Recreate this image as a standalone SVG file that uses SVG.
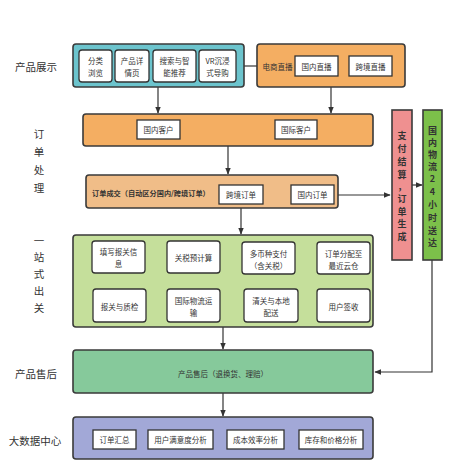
<svg xmlns="http://www.w3.org/2000/svg" width="468" height="469" viewBox="0 0 468 469">
<defs>
<marker id="ah" viewBox="0 0 10 10" refX="9" refY="5" markerWidth="7" markerHeight="7" orient="auto-start-reverse" markerUnits="userSpaceOnUse"><path d="M0,1 L10,5 L0,9 z" fill="#333"/></marker>
<style>
text{font-family:"Noto Sans CJK SC","Noto Sans",sans-serif;fill:#333}
.lbl{font-size:10.5px;text-anchor:middle;dominant-baseline:central}
.sm{font-size:7.5px;text-anchor:middle;dominant-baseline:central}
.vt{font-size:9px;font-weight:bold;text-anchor:middle;dominant-baseline:central}
.grp{stroke:#3a3a3a;stroke-width:1.6}
.wb{fill:#fff;stroke:#333;stroke-width:1.3}
.ln{fill:none;stroke:#333;stroke-width:1.2}
</style>
</defs>
<rect width="468" height="469" fill="#fff"/>

<g id="left-labels">
<text class="lbl" x="36" y="66">产品展示</text>
<text class="lbl" x="39" y="133">订</text>
<text class="lbl" x="39" y="151">单</text>
<text class="lbl" x="39" y="169">处</text>
<text class="lbl" x="39" y="187">理</text>
<text class="lbl" x="39" y="240">一</text>
<text class="lbl" x="39" y="256">站</text>
<text class="lbl" x="39" y="273">式</text>
<text class="lbl" x="39" y="290">出</text>
<text class="lbl" x="39" y="307">关</text>
<text class="lbl" x="36" y="373">产品售后</text>
<text class="lbl" x="35" y="440">大数据中心</text>
</g>

<g id="connectors">
<line class="ln" x1="244" y1="66" x2="257" y2="66"/>
<line class="ln" x1="158" y1="87" x2="158" y2="113" marker-end="url(#ah)"/>
<line class="ln" x1="331" y1="87" x2="331" y2="113" marker-end="url(#ah)"/>
<line class="ln" x1="228" y1="146" x2="228" y2="174" marker-end="url(#ah)"/>
<line class="ln" x1="334" y1="195" x2="390" y2="195" marker-end="url(#ah)"/>
<line class="ln" x1="412" y1="185" x2="422" y2="185" marker-end="url(#ah)"/>
<line class="ln" x1="241" y1="204" x2="241" y2="234" marker-end="url(#ah)"/>
<polyline class="ln" points="432,260 432,372 375,372" marker-end="url(#ah)"/>
<line class="ln" x1="145" y1="256" x2="166" y2="256" marker-end="url(#ah)"/>
<line class="ln" x1="220" y1="256" x2="241" y2="256" marker-end="url(#ah)"/>
<line class="ln" x1="295" y1="256" x2="316" y2="256" marker-end="url(#ah)"/>
<polyline class="ln" points="344,274 344,282 120,282 120,288" marker-end="url(#ah)"/>
<line class="ln" x1="146" y1="306" x2="166" y2="306" marker-end="url(#ah)"/>
<line class="ln" x1="220" y1="306" x2="243" y2="306" marker-end="url(#ah)"/>
<line class="ln" x1="298" y1="306" x2="316" y2="306" marker-end="url(#ah)"/>
<line class="ln" x1="223" y1="327" x2="223" y2="349" marker-end="url(#ah)"/>
<line class="ln" x1="223" y1="393" x2="223" y2="416" marker-end="url(#ah)"/>
</g>

<g id="display">
<rect class="grp" x="73" y="44" width="171" height="43" rx="3" fill="#6cc4cd"/>
<rect class="wb" x="79" y="50" width="33" height="32" rx="3"/>
<text class="sm" x="95.5" y="60">分类</text><text class="sm" x="95.5" y="72">浏览</text>
<rect class="wb" x="115" y="50" width="34" height="32" rx="3"/>
<text class="sm" x="132" y="60">产品详</text><text class="sm" x="132" y="72">情页</text>
<rect class="wb" x="153" y="50" width="43" height="32" rx="3"/>
<text class="sm" x="174.5" y="60">搜索与智</text><text class="sm" x="174.5" y="72">能推荐</text>
<rect class="wb" x="199" y="50" width="37" height="32" rx="3"/>
<text class="sm" x="217.5" y="60">VR沉浸</text><text class="sm" x="217.5" y="72">式导购</text>
</g>

<g id="live">
<rect class="grp" x="257" y="44" width="148" height="43" rx="3" fill="#f4ae62"/>
<text class="sm" x="277.5" y="66">电商直播</text>
<rect class="wb" x="295" y="56" width="43" height="20"/>
<text class="sm" x="316.5" y="66">国内直播</text>
<rect class="wb" x="349" y="56" width="43" height="20"/>
<text class="sm" x="370.5" y="66">跨境直播</text>
</g>

<g id="customers">
<rect class="grp" x="83" y="114" width="290" height="32" rx="3" fill="#f4ae62"/>
<rect class="wb" x="137" y="120" width="43" height="19"/>
<text class="sm" x="158.5" y="129.5">国内客户</text>
<rect class="wb" x="275" y="120" width="42" height="19"/>
<text class="sm" x="296" y="129.5">国际客户</text>
</g>

<g id="deal">
<rect class="grp" x="86" y="175" width="252" height="33" rx="3" fill="#f0bd88"/>
<text class="sm" x="92" y="193" style="text-anchor:start;font-weight:bold;font-size:7.2px">订单成交（自动区分国内/跨境订单）</text>
<rect class="wb" x="219" y="185" width="44" height="19"/>
<text class="sm" x="241" y="194.5">跨境订单</text>
<rect class="wb" x="291" y="185" width="43" height="19"/>
<text class="sm" x="312.5" y="194.5">国内订单</text>
</g>

<g id="pay">
<rect class="grp" x="392" y="110" width="20" height="150" fill="#ef9090"/>
<text class="vt" x="402" y="135">支</text>
<text class="vt" x="402" y="148">付</text>
<text class="vt" x="402" y="161">结</text>
<text class="vt" x="402" y="174">算</text>
<text class="vt" x="402" y="186">，</text>
<text class="vt" x="402" y="198">订</text>
<text class="vt" x="402" y="211">单</text>
<text class="vt" x="402" y="223">生</text>
<text class="vt" x="402" y="236">成</text>
</g>

<g id="domestic-logistics">
<rect class="grp" x="423" y="110" width="19" height="150" fill="#7cc04a"/>
<text class="vt" x="432.5" y="130">国</text>
<text class="vt" x="432.5" y="142">内</text>
<text class="vt" x="432.5" y="154">物</text>
<text class="vt" x="432.5" y="166">流</text>
<text class="vt" x="432.5" y="178">2</text>
<text class="vt" x="432.5" y="191">4</text>
<text class="vt" x="432.5" y="204">小</text>
<text class="vt" x="432.5" y="217">时</text>
<text class="vt" x="432.5" y="230">送</text>
<text class="vt" x="432.5" y="242">达</text>
</g>

<g id="customs">
<rect class="grp" x="73" y="235" width="300" height="92" rx="3" fill="#c5df9b"/>
<rect class="wb" x="92" y="241" width="53" height="32" rx="3"/>
<text class="sm" x="118.5" y="251">填写报关信</text><text class="sm" x="118.5" y="263">息</text>
<rect class="wb" x="167" y="241" width="53" height="32" rx="3"/>
<text class="sm" x="193.5" y="257">关税预计算</text>
<rect class="wb" x="242" y="242" width="53" height="32" rx="3"/>
<text class="sm" x="268.5" y="253">多币种支付</text><text class="sm" x="268.5" y="265">（含关税）</text>
<rect class="wb" x="317" y="242" width="53" height="32" rx="3"/>
<text class="sm" x="343.5" y="253">订单分配至</text><text class="sm" x="343.5" y="265">最近云仓</text>
<rect class="wb" x="93" y="289" width="53" height="33" rx="3"/>
<text class="sm" x="119.5" y="306">报关与质检</text>
<rect class="wb" x="167" y="289" width="53" height="33" rx="3"/>
<text class="sm" x="193.5" y="300">国际物流运</text><text class="sm" x="193.5" y="312">输</text>
<rect class="wb" x="244" y="289" width="54" height="33" rx="3"/>
<text class="sm" x="271" y="300">清关与本地</text><text class="sm" x="271" y="312">配送</text>
<rect class="wb" x="317" y="289" width="53" height="33" rx="3"/>
<text class="sm" x="343.5" y="306">用户签收</text>
</g>

<g id="aftersales">
<rect class="grp" x="73" y="350" width="300" height="43" rx="3" fill="#86c99b"/>
<text class="sm" x="223" y="373">产品售后（退换货、理赔）</text>
</g>

<g id="bigdata">
<rect class="grp" x="73" y="417" width="300" height="42" rx="3" fill="#a2a8d7"/>
<rect class="wb" x="93" y="430" width="43" height="19"/>
<text class="sm" x="114.5" y="439.5">订单汇总</text>
<rect class="wb" x="148" y="430" width="65" height="19"/>
<text class="sm" x="180.5" y="439.5">用户满意度分析</text>
<rect class="wb" x="227" y="430" width="57" height="19"/>
<text class="sm" x="255.5" y="439.5">成本效率分析</text>
<rect class="wb" x="299" y="430" width="64" height="19"/>
<text class="sm" x="331" y="439.5">库存和价格分析</text>
</g>
</svg>
